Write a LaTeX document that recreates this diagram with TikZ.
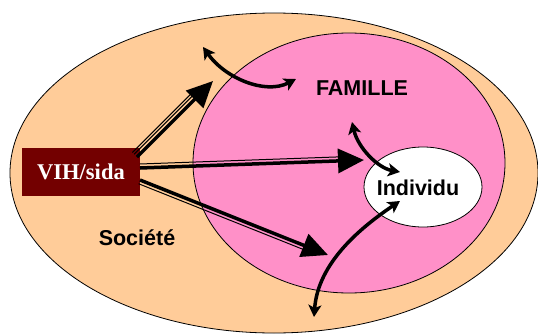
\documentclass[tikz,border=0pt]{standalone}
\usepackage{fontspec}
\setmainfont{Liberation Sans}
\newfontfamily\timesf{Liberation Serif}
\usetikzlibrary{arrows.meta,calc}
\definecolor{peach}{HTML}{FFCC99}
\definecolor{rose}{HTML}{FF90C8}
\definecolor{maroon}{HTML}{730000}
\tikzset{
  lbl/.style={font=\bfseries\fontsize{21.5}{24}\selectfont},
  bigarrow/.style={line width=3.5pt,-{Triangle[length=26pt,width=24pt]}},
  thinline/.style={line width=1pt},
  curvy/.style={line width=3.5pt,{Stealth[length=12pt,width=13pt,inset=3pt]}-{Stealth[length=12pt,width=13pt,inset=3pt]}}
}
\begin{document}
\begin{tikzpicture}[x=1pt,y=1pt]
\useasboundingbox (0,0) rectangle (538,333);
\begin{scope}
\clip (0,0) rectangle (538,333);
\draw[fill=peach,line width=0.8pt] (274,160) ellipse [x radius=264,y radius=160];
\end{scope}
\coordinate (societe) at (274,160);
\draw[fill=rose,line width=0.8pt] (349,170) ellipse [x radius=156,y radius=130];
\coordinate (famille) at (349,170);
\draw[fill=white,line width=0.8pt] (423,146) ellipse [x radius=59,y radius=40];
\node[lbl] (ind) at (418,145) {Individu};
\node[lbl] (fam) at (362,245) {FAMILLE};
\node[lbl] (soc) at (137,95) {Société};
\node[fill=maroon,minimum width=118pt,minimum height=48pt,inner sep=0pt,text=white,font=\timesf\bfseries\fontsize{22.5}{26}\selectfont] (vih) at (81,161) {VIH/sida};
% arrows
\coordinate (s1) at (137,176); \coordinate (t1) at (213,252);
\coordinate (s2) at (140,165); \coordinate (t2) at (364,173);
\coordinate (s3) at (140,153); \coordinate (t3) at (328,78);
\draw[bigarrow] (s1) -- (t1);
\draw[thinline,shorten >=24pt] ($(s1)!4pt!90:(t1)$) -- ($(t1)!4pt!-90:(s1)$);
\draw[thinline,shorten >=24pt] ($(s1)!6.5pt!90:(t1)$) -- ($(t1)!6.5pt!-90:(s1)$);
\draw[bigarrow] (s2) -- (t2);
\draw[thinline,shorten >=24pt] ($(s2)!4pt!90:(t2)$) -- ($(t2)!4pt!-90:(s2)$);
\draw[bigarrow] (s3) -- (t3);
\draw[thinline,shorten >=24pt] ($(s3)!4pt!-90:(t3)$) -- ($(t3)!4pt!90:(s3)$);
% curved double arrows
\coordinate (a1) at (203,286); \coordinate (a2) at (296,254);
\coordinate (b1) at (352,211); \coordinate (b2) at (400,161);
\coordinate (c1) at (400,132); \coordinate (c2) at (314,16);
\draw[curvy] (a1) .. controls (225,255) and (265,238) .. (a2);
\draw[curvy] (b1) .. controls (358,185) and (378,165) .. (b2);
\draw[curvy] (c1) .. controls (360,105) and (318,70) .. (c2);
\end{tikzpicture}
\end{document}
